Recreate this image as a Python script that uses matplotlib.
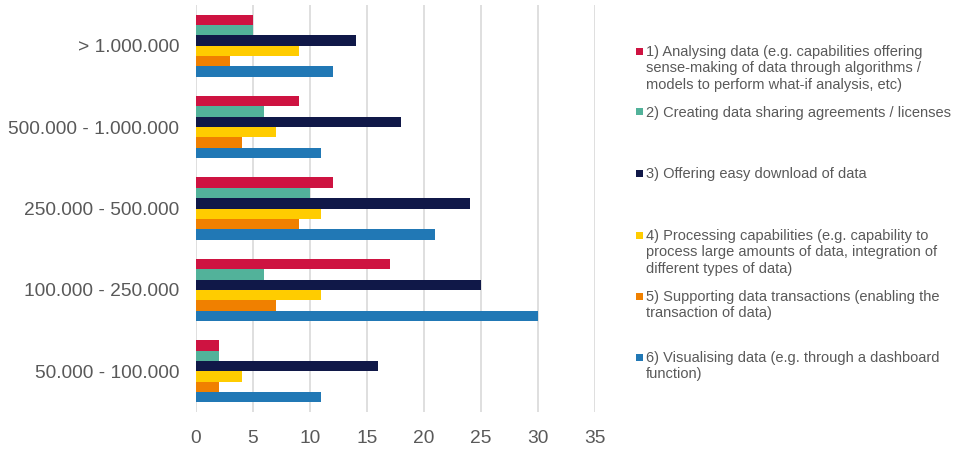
import matplotlib
matplotlib.use("Agg")
import matplotlib.pyplot as plt
import numpy as np

plt.rcParams['font.family'] = ['Liberation Sans', 'DejaVu Sans']

categories = ["> 1.000.000", "500.000 - 1.000.000", "250.000 - 500.000",
              "100.000 - 250.000", "50.000 - 100.000"]
series_names = [
    "1) Analysing data (e.g. capabilities offering\nsense-making of data through algorithms /\nmodels to perform what-if analysis, etc)",
    "2) Creating data sharing agreements / licenses",
    "3) Offering easy download of data",
    "4) Processing capabilities (e.g. capability to\nprocess large amounts of data, integration of\ndifferent types of data)",
    "5) Supporting data transactions (enabling the\ntransaction of data)",
    "6) Visualising data (e.g. through a dashboard\nfunction)",
]
values = [
    [5, 9, 12, 17, 2],
    [5, 6, 10, 6, 2],
    [14, 18, 24, 25, 16],
    [9, 7, 11, 11, 4],
    [3, 4, 9, 7, 2],
    [12, 11, 21, 30, 11],
]
colors = ["#CE1341", "#52B29A", "#101848", "#FFCC00", "#F08000", "#2178B5"]
xticks = [0, 5, 10, 15, 20, 25, 30, 35]

fig = plt.figure(figsize=(9.55, 4.5), dpi=100)
ax = fig.add_axes([196/955, 1-412/450, (595-196)/955, 407/450])

n = len(series_names)
bh = 0.127
y = np.arange(len(categories))
for i, (vals, c) in enumerate(zip(values, colors)):
    offs = (i - (n - 1) / 2) * bh
    ax.barh(y + offs, vals, height=bh, color=c, zorder=3, edgecolor='none')

ax.set_ylim(len(categories) - 0.5, -0.5)
ax.set_xlim(0, 35)
ax.set_xticks(xticks)
ax.set_yticks(y)
ax.set_yticklabels(categories)
ax.tick_params(axis='both', length=0, labelsize=13.8, colors='#595959')
ax.tick_params(axis='y', pad=12)
ax.tick_params(axis='x', pad=13)
for s in ax.spines.values():
    s.set_visible(False)
ax.xaxis.grid(True, color='#D9D9D9', linewidth=1.2, zorder=0)
ax.set_axisbelow(True)

legend_y = [51, 112, 173, 235, 296, 357]
for name, c, ly in zip(series_names, colors, legend_y):
    fig.patches.append(matplotlib.patches.Rectangle(
        (636/955, 1-(ly+3.5)/450), 7/955, 7/450, transform=fig.transFigure,
        facecolor=c, edgecolor='none'))
    fig.text(646/955, 1-(ly-6)/450, name, ha='left', va='top',
             fontsize=10.5, color='#595959', linespacing=1.22)

fig.savefig("out.png", dpi=100)
